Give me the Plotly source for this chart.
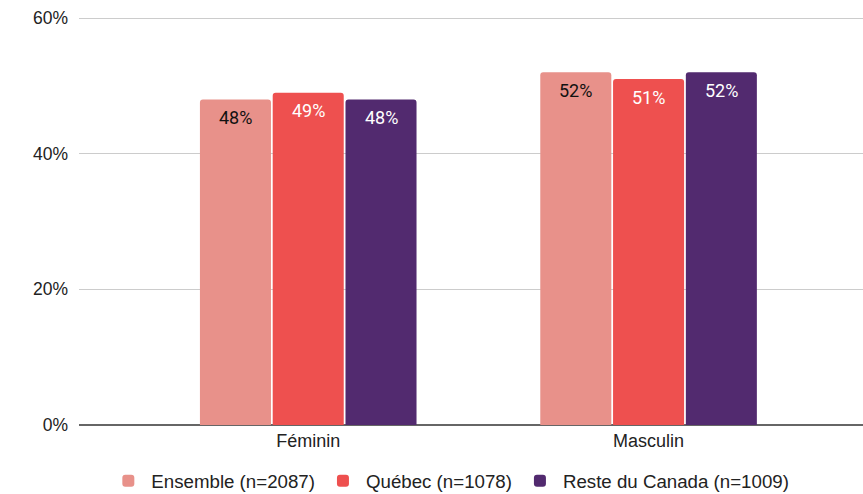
import plotly.graph_objects as go

categories = ["Féminin", "Masculin"]
series_names = ["Ensemble (n=2087)", "Québec (n=1078)", "Reste du Canada (n=1009)"]
ensemble = [0.48, 0.52]
quebec = [0.49, 0.51]
reste = [0.48, 0.52]
colors = ["#E8918A", "#EE504F", "#522A6F"]
text_colors = ["#111111", "#FFFFFF", "#FFFFFF"]
tick_vals = [0, 0.2, 0.4, 0.6]
tick_text = ["0%", "20%", "40%", "60%"]

BARGAP = 0.3585
slot = (1 - BARGAP) / 3

fig = go.Figure()
annotations = []
for i, (name, vals, col, tcol) in enumerate(zip(series_names, [ensemble, quebec, reste], colors, text_colors)):
    fig.add_trace(go.Bar(
        x=categories, y=vals, name=name,
        marker=dict(color=col, line=dict(width=0)),
    ))
    for c, v in enumerate(vals):
        annotations.append(dict(
            x=c + (i - 1) * slot, y=v, xref="x", yref="y",
            text=f"{round(v*100)}%", showarrow=False,
            yanchor="middle", xanchor="center", yshift=-18,
            font=dict(family="Roboto", size=18, color=tcol),
        ))

fig.update_layout(
    barmode="group", bargap=BARGAP, bargroupgap=0.024, barcornerradius=3,
    width=863, height=494, autosize=False,
    margin=dict(l=79, r=0, t=16, b=69, autoexpand=False),
    paper_bgcolor="white", plot_bgcolor="white",
    font=dict(family="Liberation Sans, Arial", size=17, color="#222222"),
    xaxis=dict(range=[-0.6735, 1.630], showgrid=False, showline=False,
               ticks="", automargin=False, ticklabelstandoff=3,
               tickfont=dict(size=18, color="#222222")),
    yaxis=dict(range=[0, 0.603], tickvals=tick_vals, ticktext=tick_text,
               showgrid=True, gridcolor="#CCCCCC", gridwidth=1,
               zeroline=True, zerolinecolor="#666666", zerolinewidth=1.5,
               ticks="", ticklabelstandoff=10, automargin=False,
               tickfont=dict(size=17.5, color="#222222")),
    legend=dict(orientation="h", x=0.473, xanchor="center", y=-0.091, yanchor="top",
                font=dict(size=18.7, color="#222222"), itemwidth=36, traceorder="normal"),
    showlegend=True,
    annotations=annotations,
)

post = ("document.body.style.margin='0';"
        "document.body.style.padding='0';"
        "document.documentElement.style.overflow='hidden';"
        "document.body.style.overflow='hidden';")

fig.write_html("out.html", post_script=post, config={"displayModeBar": False})
